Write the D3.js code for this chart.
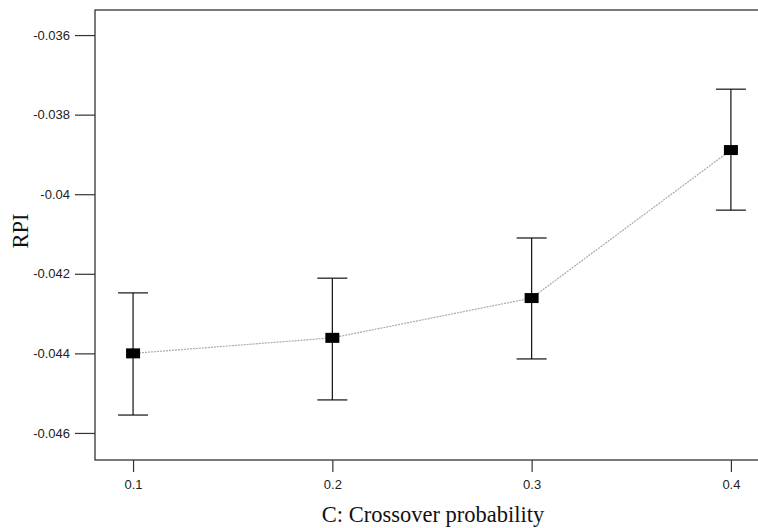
<!DOCTYPE html>
<html>
<head>
<meta charset="utf-8">
<script src="https://cdn.jsdelivr.net/npm/d3@7"></script>
<style>
  body { margin: 0; background: #fff; }
  svg { display: block; }
</style>
</head>
<body>
<div id="chart"></div>
<script>
// Data
var xValues = [0.1, 0.2, 0.3, 0.4];
var meanRPI = [-0.04400, -0.04361, -0.04261, -0.03889];
var lowerRPI = [-0.04555, -0.04517, -0.04414, -0.04040];
var upperRPI = [-0.04248, -0.04211, -0.04110, -0.03736];
var yTicks = [-0.036, -0.038, -0.04, -0.042, -0.044, -0.046];
var xTicks = [0.1, 0.2, 0.3, 0.4];

var width = 758, height = 528;
var margin = {top: 10, right: -4, bottom: 68, left: 95};
var plotW = width - margin.left - margin.right,
    plotH = height - margin.top - margin.bottom;

var svg = d3.select("#chart").append("svg")
  .attr("width", width)
  .attr("height", height);

var g = svg.append("g")
  .attr("transform", "translate(" + margin.left + "," + margin.top + ")");

// Scales
var x = d3.scaleLinear()
  .domain([0.0809, 0.4156])
  .range([0, plotW]);

var y = d3.scaleLinear()
  .domain([-0.04668, -0.03537])
  .range([plotH, 0]);

var data = xValues.map(function(v, i) {
  return {x: v, mean: meanRPI[i], lo: lowerRPI[i], hi: upperRPI[i]};
});

// Frame
g.append("rect")
  .attr("x", 0).attr("y", 0)
  .attr("width", plotW).attr("height", plotH)
  .attr("fill", "none")
  .attr("stroke", "#333")
  .attr("stroke-width", 1.3);

// Y axis
var yAxis = g.append("g")
  .call(d3.axisLeft(y).tickValues(yTicks).tickSize(20).tickPadding(5)
    .tickFormat(function(d) { return String(+d.toFixed(3)); }));
yAxis.select(".domain").remove();
yAxis.selectAll("line").attr("stroke", "#333").attr("stroke-width", 1.2);
yAxis.selectAll("text")
  .style("font-family", "'Liberation Sans', Arial, sans-serif")
  .style("font-size", "13px")
  .attr("fill", "#222");

// X axis
var xAxis = g.append("g")
  .attr("transform", "translate(0," + plotH + ")")
  .call(d3.axisBottom(x).tickValues(xTicks).tickSize(12).tickPadding(8)
    .tickFormat(d3.format(".1f")));
xAxis.select(".domain").remove();
xAxis.selectAll("line").attr("stroke", "#333").attr("stroke-width", 1.2);
xAxis.selectAll("text")
  .style("font-family", "'Liberation Sans', Arial, sans-serif")
  .style("font-size", "13px")
  .attr("fill", "#222");

// Connecting line
g.append("path")
  .datum(data)
  .attr("fill", "none")
  .attr("stroke", "#aaa")
  .attr("stroke-width", 1.2)
  .attr("stroke-dasharray", "2,1")
  .attr("d", d3.line()
    .x(function(d) { return x(d.x); })
    .y(function(d) { return y(d.mean); }));

// Error bars
var capW = 15;
var eb = g.selectAll(".errbar").data(data).enter().append("g").attr("class", "errbar");
eb.append("line")
  .attr("x1", function(d) { return x(d.x); })
  .attr("x2", function(d) { return x(d.x); })
  .attr("y1", function(d) { return y(d.hi); })
  .attr("y2", function(d) { return y(d.lo); })
  .attr("stroke", "#111").attr("stroke-width", 1.2);
eb.append("line")
  .attr("x1", function(d) { return x(d.x) - capW; })
  .attr("x2", function(d) { return x(d.x) + capW; })
  .attr("y1", function(d) { return y(d.hi); })
  .attr("y2", function(d) { return y(d.hi); })
  .attr("stroke", "#111").attr("stroke-width", 1.2);
eb.append("line")
  .attr("x1", function(d) { return x(d.x) - capW; })
  .attr("x2", function(d) { return x(d.x) + capW; })
  .attr("y1", function(d) { return y(d.lo); })
  .attr("y2", function(d) { return y(d.lo); })
  .attr("stroke", "#111").attr("stroke-width", 1.2);

// Markers
g.selectAll(".marker").data(data).enter().append("rect")
  .attr("class", "marker")
  .attr("x", function(d) { return x(d.x) - 7; })
  .attr("y", function(d) { return y(d.mean) - 5; })
  .attr("width", 14).attr("height", 10)
  .attr("fill", "#000");

// Axis titles
svg.append("text")
  .attr("transform", "translate(28,231) rotate(-90)")
  .attr("text-anchor", "middle")
  .style("font-family", "'Liberation Serif', 'Times New Roman', serif")
  .style("font-size", "22.5px")
  .attr("fill", "#111")
  .text("RPI");

svg.append("text")
  .attr("x", 433)
  .attr("y", 522)
  .attr("text-anchor", "middle")
  .style("font-family", "'Liberation Serif', 'Times New Roman', serif")
  .style("font-size", "22.5px")
  .attr("fill", "#111")
  .text("C: Crossover probability");
</script>
</body>
</html>
